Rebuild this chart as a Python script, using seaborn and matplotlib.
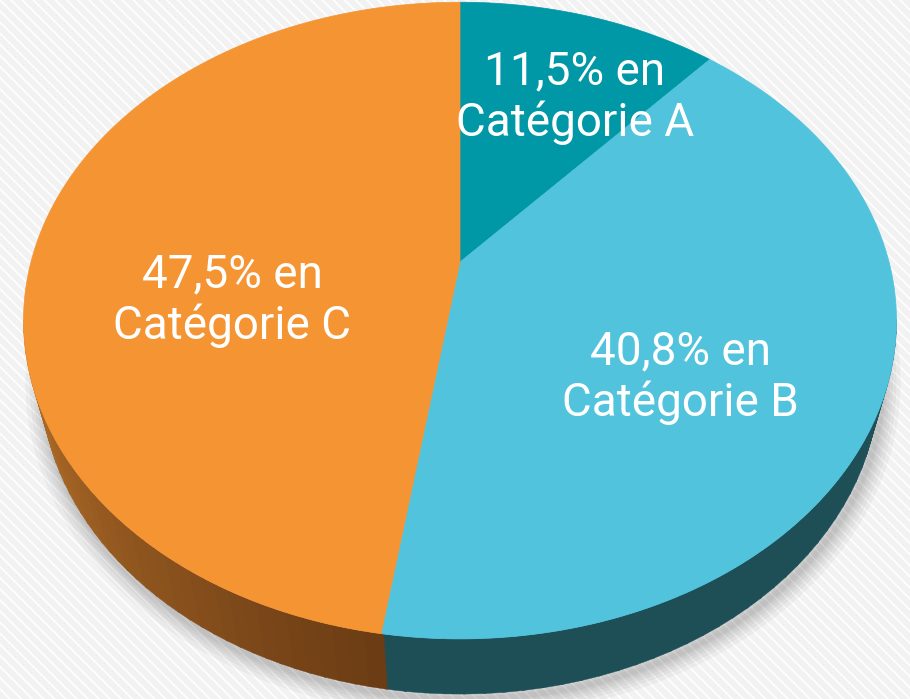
import numpy as np
import matplotlib
matplotlib.use("Agg")
import matplotlib.pyplot as plt
import seaborn as sns
from matplotlib.patches import Polygon, Rectangle
from matplotlib.colors import to_rgb

# data
categories = ["Catégorie A", "Catégorie B", "Catégorie C"]
shares = [11.5, 40.8, 47.5]

# styling
top_colors = ["#0098a7", "#51c3dc", "#f59433"]
side_dark = ["#006672", "#1e4f57", "#6a3b14"]
side_light = ["#006672", "#1e4f57", "#b8722a"]
label_xy = [(575, 97), (680, 377), (232, 300)]

sns.set_theme(style="white")
plt.rcParams["font.family"] = ["Roboto", "DejaVu Sans"]

# perspective camera for the tilted disc
elev = np.deg2rad(45.8)
s, c = np.sin(elev), np.cos(elev)
D, f = 3.79, 1626.0
H = 0.207
cx, cy = 460.0, 262.0


def proj(x, y, h):
    up = y * s + h * c
    depth = D + y * c - h * s
    return cx + x * f / depth, cy - up * f / depth


def arc(t0, t1, h, n=200):
    t = np.deg2rad(np.linspace(t0, t1, n))
    px, py = proj(np.cos(t), np.sin(t), h)
    return np.column_stack([px, py])


fig = plt.figure(figsize=(9.1, 6.99), dpi=100)
ax = fig.add_axes([0, 0, 1, 1])
ax.set_xlim(0, 910)
ax.set_ylim(699, 0)
ax.axis("off")

# striped light background
plt.rcParams["hatch.linewidth"] = 1.2
ax.add_patch(Rectangle((0, 0), 910, 699, facecolor="#f2f2f2", edgecolor="white",
                       hatch="\\\\\\", linewidth=0, zorder=0))

# soft shadow under the disc
sh = arc(-205, 25, -H)
for lw in [26, 20, 15, 11, 7, 4]:
    ax.plot(sh[:, 0] + 3, sh[:, 1] + 5, color="black", alpha=0.035, lw=lw,
            solid_capstyle="round", zorder=1)

total = sum(shares)
cum = np.concatenate([[0], np.cumsum(shares)]) / total * 360
sil = np.rad2deg(np.arcsin(-c / D))
vis_lo, vis_hi = -180 - sil, sil

for i, cat in enumerate(categories):
    t_start = 90 - cum[i]
    t_end = 90 - cum[i + 1]

    # visible side wall
    a, b = max(t_end, vis_lo), min(t_start, vis_hi)
    if a < b:
        edges = np.linspace(a, b, 40)
        c_dark = np.array(to_rgb(side_dark[i]))
        c_light = np.array(to_rgb(side_light[i]))
        for k in range(len(edges) - 1):
            frac = (edges[-1] - edges[k]) / (edges[-1] - edges[0]) if i == 2 else 0
            if i == 2:
                frac = (t_start - edges[k]) / (t_start - vis_lo)
            col = c_dark + (c_light - c_dark) * np.clip(frac, 0, 1)
            pts = np.vstack([arc(edges[k], edges[k + 1] + 0.3, 0, 10),
                             arc(edges[k + 1] + 0.3, edges[k], -H, 10)])
            ax.add_patch(Polygon(pts, closed=True, facecolor=col, edgecolor=col,
                                 lw=0.3, zorder=2))

    # top face wedge
    ox, oy = proj(0, 0, 0)
    pts = np.vstack([[ox, oy], arc(t_start, t_end, 0)])
    ax.add_patch(Polygon(pts, closed=True, facecolor=top_colors[i],
                         edgecolor=top_colors[i], lw=0.5, zorder=3))

    pct = f"{shares[i]:.1f}".replace(".", ",")
    ax.text(label_xy[i][0], label_xy[i][1], f"{pct}% en\n{cat}", color="white",
            fontsize=33, ha="center", va="center", linespacing=1.2, zorder=4)

fig.savefig("out.png", dpi=100)
